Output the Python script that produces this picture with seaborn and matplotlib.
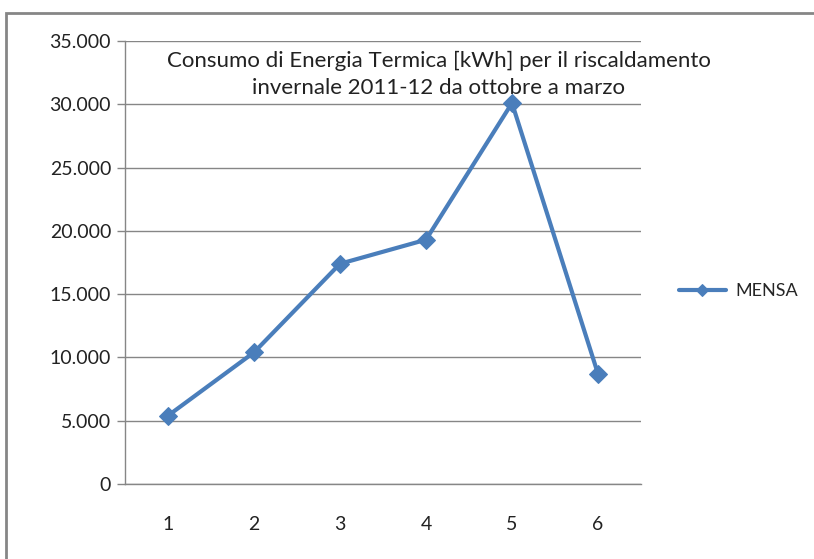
import matplotlib
matplotlib.use("Agg")
import matplotlib.pyplot as plt
from matplotlib.ticker import FuncFormatter, FixedLocator
from matplotlib.patches import Rectangle
import seaborn as sns
import pandas as pd

# dati
mesi = [1, 2, 3, 4, 5, 6]
consumo_mensa = [5400, 10400, 17400, 19300, 30100, 8700]
serie = "MENSA"
titolo = ("Consumo di Energia Termica [kWh] per il riscaldamento\n"
          "invernale 2011-12 da ottobre a marzo")

sns.set_style("white")
plt.rcParams["font.family"] = ["Lato", "DejaVu Sans"]

df = pd.DataFrame({"mese": mesi, "kWh": consumo_mensa, "serie": serie})

fig = plt.figure(figsize=(8.14, 5.59), dpi=100)
ax = fig.add_axes([125 / 814, 75 / 559, 516 / 814, 443 / 559])

blu = "#4A7EBB"
sns.lineplot(data=df, x="mese", y="kWh", hue="serie", palette=[blu],
             marker="D", markersize=9, markeredgecolor=blu,
             linewidth=3.0, ax=ax, legend=True)

ax.set_xlim(0.5, 6.5)
ax.set_ylim(0, 35000)
ax.set_yticks(range(0, 35001, 5000))
ax.yaxis.set_major_formatter(FuncFormatter(lambda v, p: f"{int(v):,}".replace(",", ".")))
ax.set_xticks(mesi)
ax.xaxis.set_minor_locator(FixedLocator([i + 0.5 for i in range(0, 7)]))
ax.tick_params(axis="x", which="major", length=0, pad=23, labelsize=14, colors="#222222")
ax.tick_params(axis="x", which="minor", length=6, width=1, color="#868686", direction="out")
ax.tick_params(axis="y", length=6, width=1, color="#868686", pad=4, labelsize=14,
               labelcolor="#222222", left=True)
ax.set_xlabel("")
ax.set_ylabel("")
ax.grid(axis="y", color="#868686", linewidth=1)
ax.set_axisbelow(True)
for s in ["top", "right"]:
    ax.spines[s].set_visible(False)
for s in ["left", "bottom"]:
    ax.spines[s].set_color("#868686")
    ax.spines[s].set_linewidth(1)

ax.text(0.608, 0.925, titolo, transform=ax.transAxes, ha="center", va="center",
        fontsize=16, color="#222222", linespacing=1.45)

leg = ax.legend(loc="center left", bbox_to_anchor=(679 / 814, 1 - 291 / 559),
                bbox_transform=fig.transFigure, frameon=False, fontsize=13,
                handlelength=2.6, handletextpad=0.5, borderpad=0, borderaxespad=0)
for h in leg.legend_handles:
    h.set_markersize(6)

fig.patches.append(Rectangle((6 / 814, -0.05), 1.1, 1 - 13 / 559 + 0.05,
                             transform=fig.transFigure, fill=False,
                             edgecolor="#868686", linewidth=2))

fig.savefig("out.png", dpi=100)
